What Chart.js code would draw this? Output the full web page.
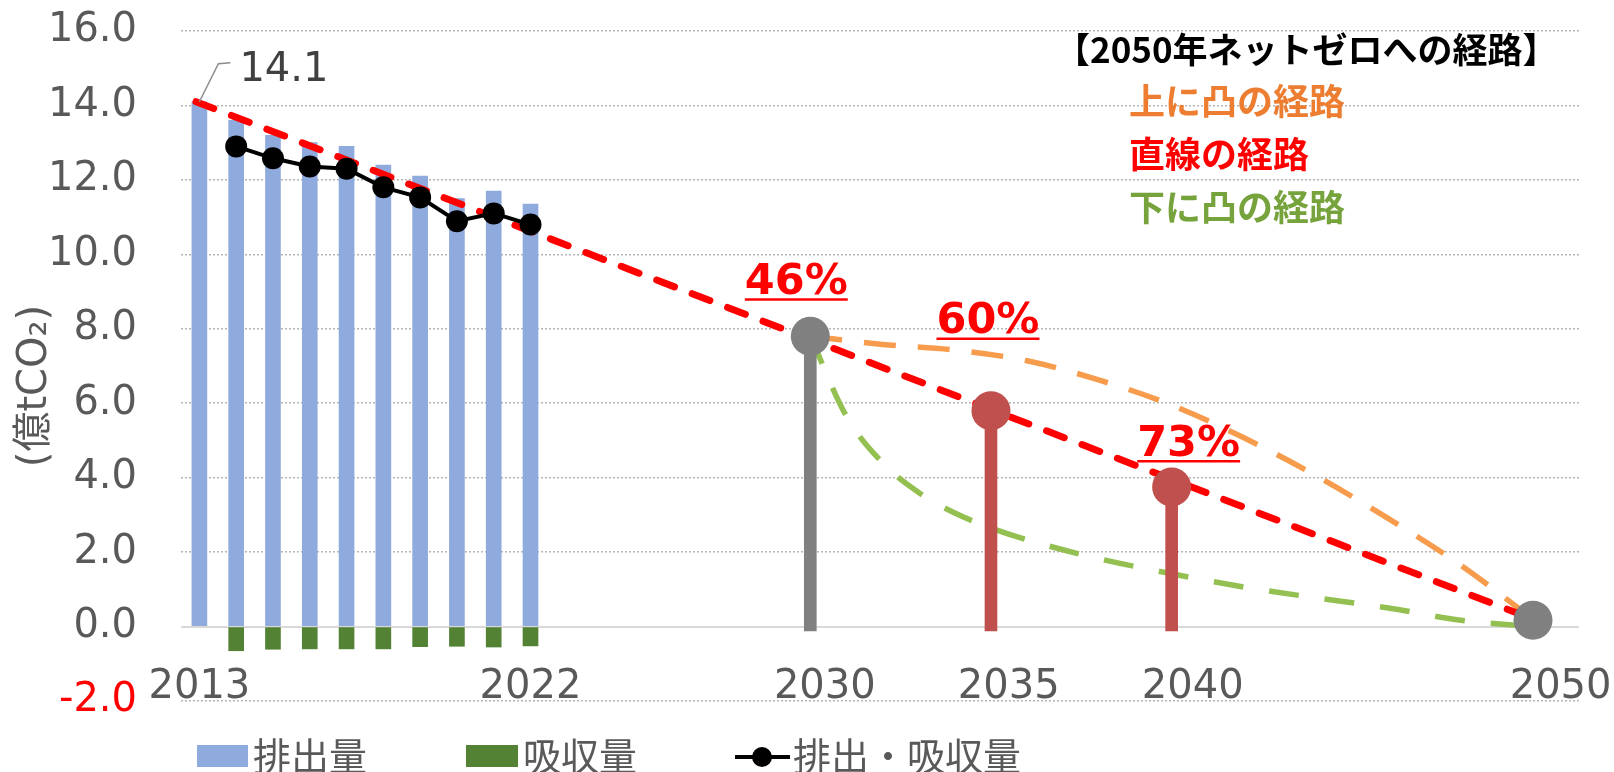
<!DOCTYPE html>
<html lang="ja">
<head>
<meta charset="utf-8">
<title>2050年ネットゼロへの経路</title>
<script src="https://cdn.jsdelivr.net/npm/chart.js@4.4.1/dist/chart.umd.min.js"></script>
<style>
  html, body { margin: 0; padding: 0; background: #fff; }
  #wrap { width: 1614px; height: 772px; position: relative; }
</style>
</head>
<body>
<div id="wrap"><canvas id="myChart"></canvas></div>
<script>
// --- data (億tCO2)
const yearLabels = ['2013', '2014', '2015', '2016', '2017', '2018', '2019', '2020', '2021', '2022',
    '2023', '2024', '2025', '2026', '2027', '2028', '2029', '2030', '2031', '2032',
    '2033', '2034', '2035', '2036', '2037', '2038', '2039', '2040', '2041', '2042',
    '2043', '2044', '2045', '2046', '2047', '2048', '2049', '2050'];
const shownYears = ['2013', '2022', '2030', '2035', '2040', '2050'];

const emissions = [14.1, 13.6, 13.2, 13.0, 12.9, 12.4, 12.1, 11.5, 11.7, 11.35];
const sinks = [null, -0.65, -0.61, -0.6, -0.6, -0.6, -0.54, -0.53, -0.55, -0.52];
const netEmissions = [null, 12.9, 12.58, 12.36, 12.3, 11.8, 11.53, 10.89, 11.1, 10.8];

const straightYears = [2013, 2050];
const straightValues = [14.1, 0.2];
const concaveYears = [2030, 2032, 2034, 2036, 2038, 2040, 2042, 2044, 2046, 2048, 2050];
const concaveValues = [7.8, 7.58, 7.43, 7.14, 6.62, 5.95, 5.07, 4.05, 2.9, 1.65, 0.2];
const convexYears = [2030, 2031, 2032, 2033, 2034, 2035, 2036, 2038, 2040, 2042, 2044, 2046, 2048, 2050];
const convexValues = [7.8, 5.65, 4.4, 3.6, 3.05, 2.65, 2.33, 1.82, 1.42, 1.06, 0.77, 0.5, 0.17, 0.0];

const targetYears = [2030, 2035, 2040, 2050];
const targetValues = [7.8, 5.8, 3.75, 0.17];
const reductionLabels = ['46%', '60%', '73%'];

const legendNames = ['排出量', '吸収量', '排出・吸収量'];
const pathwayTitle = '【2050年ネットゼロへの経路】';
const pathwayNames = ['上に凸の経路', '直線の経路', '下に凸の経路'];

const GRAY_TEXT = '#595959';
const pathwayColors = ['#f79b4d', '#ff0000', '#93c051'];
const pathwayTextColors = ['#ed7d31', '#ff0000', '#76a33c'];

function toPoints(xs, ys) {
    return xs.map((x, i) => ({ x: x, y: ys[i] }));
}

Chart.defaults.font.family = "'DejaVu Sans', 'Noto Sans CJK JP', sans-serif";

// texts drawn on top: data label, reduction rates, pathway key, bottom legend
const overlayPlugin = {
    id: 'overlay',
    afterDatasetsDraw(chart) {
        const { ctx, scales: { x, x2, y } } = chart;
        ctx.save();

        // 14.1 with leader line
        const bx = x.getPixelForValue(0);
        const by = y.getPixelForValue(emissions[0]);
        ctx.strokeStyle = '#8c8c8c';
        ctx.lineWidth = 1.5;
        ctx.beginPath();
        ctx.moveTo(bx, by);
        ctx.lineTo(bx + 19, by - 38);
        ctx.lineTo(bx + 31, by - 39);
        ctx.stroke();
        ctx.fillStyle = '#404040';
        ctx.font = "40px 'DejaVu Sans'";
        ctx.textAlign = 'left';
        ctx.textBaseline = 'alphabetic';
        ctx.fillText(emissions[0].toFixed(1), bx + 40, by - 21);

        // reduction rates, underlined
        const offs = [[-14, -58], [-3, -93], [17, -47]];
        ctx.font = "bold 43px 'DejaVu Sans'";
        ctx.textAlign = 'center';
        reductionLabels.forEach((txt, i) => {
            const cx = x2.getPixelForValue(targetYears[i]) + offs[i][0];
            const cy = y.getPixelForValue(targetValues[i]) + offs[i][1];
            const base = cy + 15.7;
            const w = ctx.measureText(txt).width;
            ctx.fillStyle = '#ff0000';
            ctx.fillText(txt, cx, base);
            ctx.strokeStyle = '#ff0000';
            ctx.lineWidth = 2.5;
            ctx.beginPath();
            ctx.moveTo(cx - w / 2, base + 5.5);
            ctx.lineTo(cx + w / 2, base + 5.5);
            ctx.stroke();
        });

        // pathway key, top right
        ctx.textAlign = 'left';
        ctx.fillStyle = '#000000';
        ctx.font = "bold 35px 'Noto Sans CJK JP'";
        ctx.fillText(pathwayTitle, 1055, 63);
        ctx.font = "bold 36px 'Noto Sans CJK JP'";
        pathwayNames.forEach((name, i) => {
            ctx.fillStyle = pathwayTextColors[i];
            ctx.fillText(name, 1129, 115 + i * 53);
        });

        // bottom legend
        const ds = chart.data.datasets;
        const find = (lab) => ds.find(d => d.label === lab);
        ctx.font = "38px 'Noto Sans CJK JP'";
        ctx.fillStyle = find(legendNames[0]).backgroundColor;
        ctx.fillRect(197, 745, 51, 22);
        ctx.fillStyle = GRAY_TEXT;
        ctx.fillText(legendNames[0], 253, 770);

        ctx.fillStyle = find(legendNames[1]).backgroundColor;
        ctx.fillRect(466, 745, 52, 22);
        ctx.fillStyle = GRAY_TEXT;
        ctx.fillText(legendNames[1], 523, 770);

        const net = find(legendNames[2]);
        ctx.strokeStyle = net.borderColor;
        ctx.lineWidth = 4;
        ctx.beginPath();
        ctx.moveTo(735, 757);
        ctx.lineTo(790, 757);
        ctx.stroke();
        ctx.fillStyle = net.pointBackgroundColor;
        ctx.beginPath();
        ctx.arc(762, 757, 10, 0, Math.PI * 2);
        ctx.fill();
        ctx.fillStyle = GRAY_TEXT;
        ctx.fillText(legendNames[2], 793, 770);

        ctx.restore();
    }
};

const ctx = document.getElementById('myChart');

const myChart = new Chart(ctx, {
    type: 'bar',
    data: {
        labels: yearLabels,
        datasets: [{
            type: 'line',
            label: 'targets',
            xAxisID: 'x2',
            data: toPoints(targetYears, targetValues),
            showLine: false,
            pointRadius: 19.5,
            pointHoverRadius: 19.5,
            pointBorderWidth: 0,
            pointBackgroundColor: ['#808080', '#c0504d', '#c0504d', '#808080'],
            order: 1
        }, {
            type: 'line',
            label: legendNames[2],
            data: netEmissions,
            borderColor: '#000000',
            borderWidth: 4,
            pointRadius: 11,
            pointHoverRadius: 11,
            pointBorderWidth: 0,
            pointBackgroundColor: '#000000',
            order: 2
        }, {
            type: 'bar',
            label: 'stems',
            xAxisID: 'x2',
            data: toPoints(targetYears.slice(0, 3), targetValues.slice(0, 3)),
            base: -0.12,
            barThickness: 12,
            grouped: false,
            backgroundColor: ['#808080', '#c0504d', '#c0504d'],
            order: 3
        }, {
            type: 'line',
            label: pathwayNames[1],
            xAxisID: 'x2',
            data: toPoints(straightYears, straightValues),
            borderColor: pathwayColors[1],
            borderWidth: 7,
            borderDash: [19, 19],
            borderCapStyle: 'round',
            pointRadius: 0,
            order: 4
        }, {
            type: 'line',
            label: pathwayNames[0],
            xAxisID: 'x2',
            data: toPoints(concaveYears, concaveValues),
            borderColor: pathwayColors[0],
            borderWidth: 5.5,
            borderDash: [32, 22],
            cubicInterpolationMode: 'monotone',
            pointRadius: 0,
            order: 5
        }, {
            type: 'line',
            label: pathwayNames[2],
            xAxisID: 'x2',
            data: toPoints(convexYears, convexValues),
            borderColor: pathwayColors[2],
            borderWidth: 5.5,
            borderDash: [30, 26],
            cubicInterpolationMode: 'monotone',
            pointRadius: 0,
            order: 6
        }, {
            type: 'bar',
            label: legendNames[0],
            data: emissions,
            backgroundColor: '#8faadc',
            barThickness: 15,
            grouped: false,
            order: 7
        }, {
            type: 'bar',
            label: legendNames[1],
            data: sinks,
            backgroundColor: '#548235',
            barThickness: 15,
            grouped: false,
            order: 8
        }]
    },
    options: {
        responsive: true,
        maintainAspectRatio: false,
        animation: false,
        layout: { padding: { top: 31, right: 35, bottom: 71, left: 0 } },
        plugins: {
            legend: { display: false },
            tooltip: { enabled: false }
        },
        scales: {
            x: {
                type: 'category',
                position: { y: -1 },
                offset: true,
                grid: { display: false, drawTicks: false },
                border: { display: false },
                ticks: {
                    autoSkip: false,
                    maxRotation: 0,
                    minRotation: 0,
                    padding: 0,
                    color: GRAY_TEXT,
                    font: { size: 40 },
                    callback: (val, i) => shownYears.includes(yearLabels[i]) ? yearLabels[i] : ''
                }
            },
            x2: {
                type: 'linear',
                display: false,
                offset: false,
                min: 2012.585,
                max: 2051.273
            },
            y: {
                min: -2,
                max: 16,
                ticks: {
                    stepSize: 2,
                    padding: 0,
                    font: { size: 40 },
                    color: (c) => (c.tick && c.tick.value < 0) ? '#ff0000' : GRAY_TEXT,
                    callback: (v) => v.toFixed(1)
                },
                grid: {
                    drawTicks: true,
                    tickLength: 44,
                    tickColor: 'rgba(0,0,0,0)',
                    color: (c) => (c.tick && c.tick.value === 0) ? '#d9d9d9' : '#b5b5b5',
                    lineWidth: (c) => (c.tick && c.tick.value === 0) ? 2 : 1.5
                },
                border: {
                    display: false,
                    dash: (c) => (c.tick && c.tick.value === 0) ? [] : [2, 2]
                },
                title: {
                    display: true,
                    text: '(億tCO₂)\u2003',
                    color: GRAY_TEXT,
                    font: { size: 40 },
                    padding: { top: 12, bottom: 0 }
                },
                afterFit: function (scale) { scale.width = 181; }
            }
        }
    },
    plugins: [overlayPlugin]
});
</script>
</body>
</html>
